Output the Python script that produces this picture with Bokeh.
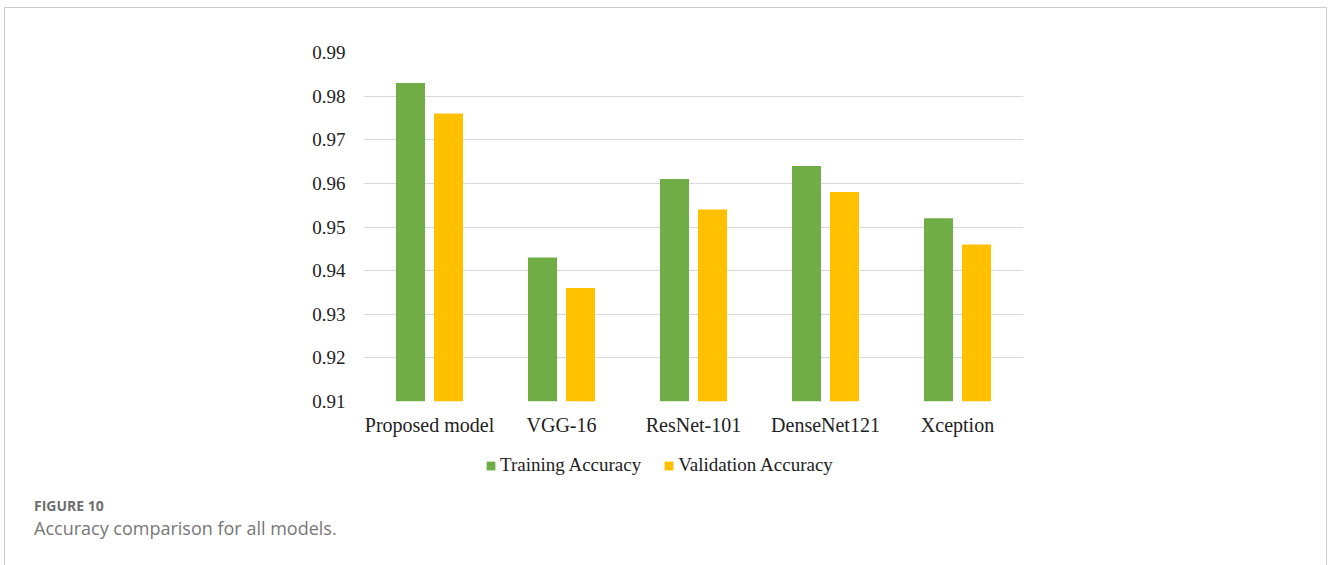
from bokeh.plotting import figure
from bokeh.models import (FactorRange, Range1d, ColumnDataSource, Legend, LegendItem, Div,
                          SingleIntervalTicker)
from bokeh.layouts import column
from bokeh.transform import dodge
from bokeh.embed import file_html
from bokeh.resources import INLINE

# Accuracy of each model
models = ["Proposed model", "VGG-16", "ResNet-101", "DenseNet121", "Xception"]
training_acc = [0.983, 0.943, 0.961, 0.964, 0.952]
validation_acc = [0.976, 0.936, 0.954, 0.958, 0.946]
series_names = ["Training Accuracy", "Validation Accuracy"]

GREEN = "#70AD47"
YELLOW = "#FFC000"
SERIF = "Liberation Serif"

src = ColumnDataSource(dict(model=models, train=training_acc, val=validation_acc))


def add_bars(fig):
    """Grouped bars: training on the left, validation on the right of each model."""
    r1 = fig.vbar(x=dodge("model", -0.144, range=fig.x_range), top="train", bottom=0.91,
                  width=0.22, source=src, fill_color=GREEN, line_color=None)
    r2 = fig.vbar(x=dodge("model", 0.144, range=fig.x_range), top="val", bottom=0.91,
                  width=0.22, source=src, fill_color=YELLOW, line_color=None)
    return r1, r2


# main chart
p = figure(
    frame_width=660, frame_height=349,
    x_range=FactorRange(*models, range_padding=0),
    y_range=(0.91, 0.99),
    output_backend="svg", toolbar_location=None,
    min_border_left=358, min_border_right=303,
    min_border_top=44, min_border_bottom=0,
)
p.outline_line_color = None
p.background_fill_color = "white"
p.border_fill_color = "white"
add_bars(p)

p.yaxis.ticker = SingleIntervalTicker(interval=0.01)
p.yaxis.formatter.use_scientific = False
for ax in (p.xaxis[0], p.yaxis[0]):
    ax.axis_line_color = None
    ax.major_tick_line_color = None
    ax.minor_tick_line_color = None
    ax.major_label_text_font = SERIF
    ax.major_label_text_color = "#222222"
p.yaxis.major_label_text_font_size = "19px"
p.xaxis.major_label_text_font_size = "20px"
p.yaxis.major_label_standoff = 12
p.xaxis.major_label_standoff = 6

p.xgrid.grid_line_color = None
p.ygrid.grid_line_color = "#d9d9d9"
p.ygrid.grid_line_width = 1

# legend strip under the chart (its own bars sit outside the visible range)
lg = figure(
    width=1321, height=53,
    x_range=p.x_range, y_range=Range1d(10, 11),
    output_backend="svg", toolbar_location=None,
    x_axis_location=None, y_axis_location=None,
    min_border=0,
)
lg.outline_line_color = None
lg.grid.grid_line_color = None
lg_train, lg_val = add_bars(lg)

legend = Legend(
    items=[LegendItem(label=series_names[0], renderers=[lg_train]),
           LegendItem(label=series_names[1], renderers=[lg_val])],
    orientation="horizontal",
    location=(122, 15),
    label_text_font=SERIF, label_text_font_size="19px", label_text_color="#222222",
    glyph_width=11, glyph_height=11, label_standoff=4, spacing=22,
    background_fill_alpha=0, border_line_color=None, padding=0, margin=0,
)
lg.add_layout(legend, "center")

caption = Div(
    text=('<div style="font-family:\'Open Sans\';font-weight:bold;font-size:14px;'
          'color:#6e6e6e;line-height:20px">FIGURE 10</div>'
          '<div style="font-family:\'Open Sans\';font-size:18px;color:#777777;'
          'line-height:24px">Accuracy comparison for all models.</div>'),
    styles={"margin-left": "29px", "margin-top": "5px", "padding-bottom": "30px"},
)

layout = column(p, lg, caption, spacing=0,
                styles={"border": "1px solid #cccccc", "border-bottom": "none",
                        "margin-left": "4px", "margin-top": "7px"})

open("out.html", "w").write(file_html(layout, INLINE))
